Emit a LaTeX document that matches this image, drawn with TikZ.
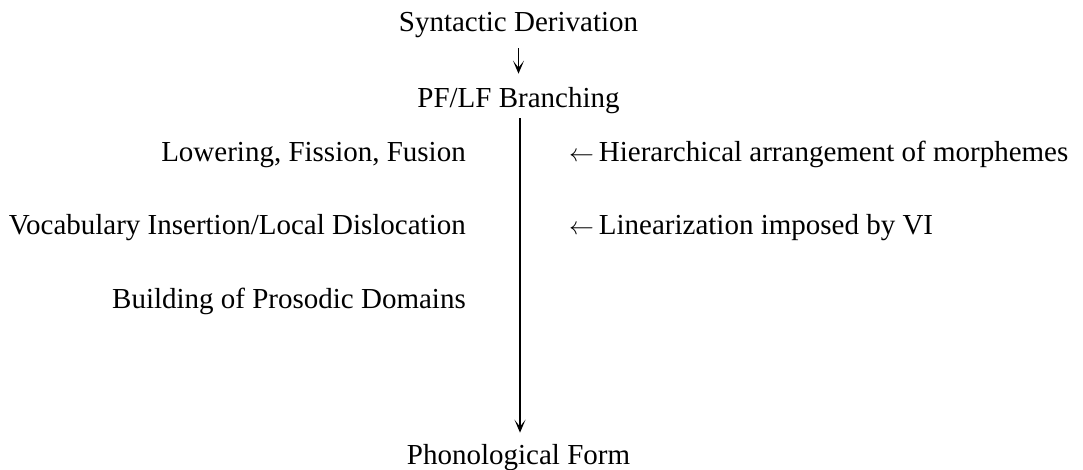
\documentclass[tikz,border=0pt]{standalone}
\usepackage{fontspec}
\setmainfont{Liberation Serif}
\usetikzlibrary{arrows.meta}
\begin{document}
\begin{tikzpicture}[x=1pt,y=-1pt,
  lbl/.style={inner sep=0pt,font=\fontsize{29}{34}\selectfont},
  lft/.style={lbl,anchor=base east},
  rgt/.style={lbl,anchor=base west},
  ctr/.style={lbl,anchor=base},
  flow/.style={line width=1.4pt,-{Stealth[length=13pt,width=11pt,inset=7pt]}}]
\useasboundingbox (0,0) rectangle (1083,470);
\node[ctr] (syn) at (518.5,32) {Syntactic Derivation};
\node[ctr] (pf) at (518.5,108) {PF/LF Branching};
\node[lft] (low) at (466,162) {Lowering, Fission, Fusion};
\node[lft] (voc) at (466,235) {Vocabulary Insertion/Local Dislocation};
\node[lft] (bld) at (466,308) {Building of Prosodic Domains};
\node[rgt] (hier) at (569,162) {$\leftarrow$\,Hierarchical arrangement of morphemes};
\node[rgt] (lin) at (569,235) {$\leftarrow$\,Linearization imposed by VI};
\node[ctr] (ph) at (518.5,464) {Phonological Form};
\draw[flow] ([yshift=-10pt]syn.south) -- ([yshift=14pt]pf.north);
\draw[flow] ([xshift=1.5pt,yshift=-4pt]pf.south) -- ([xshift=1.5pt,yshift=11pt]ph.north);
\end{tikzpicture}
\end{document}
